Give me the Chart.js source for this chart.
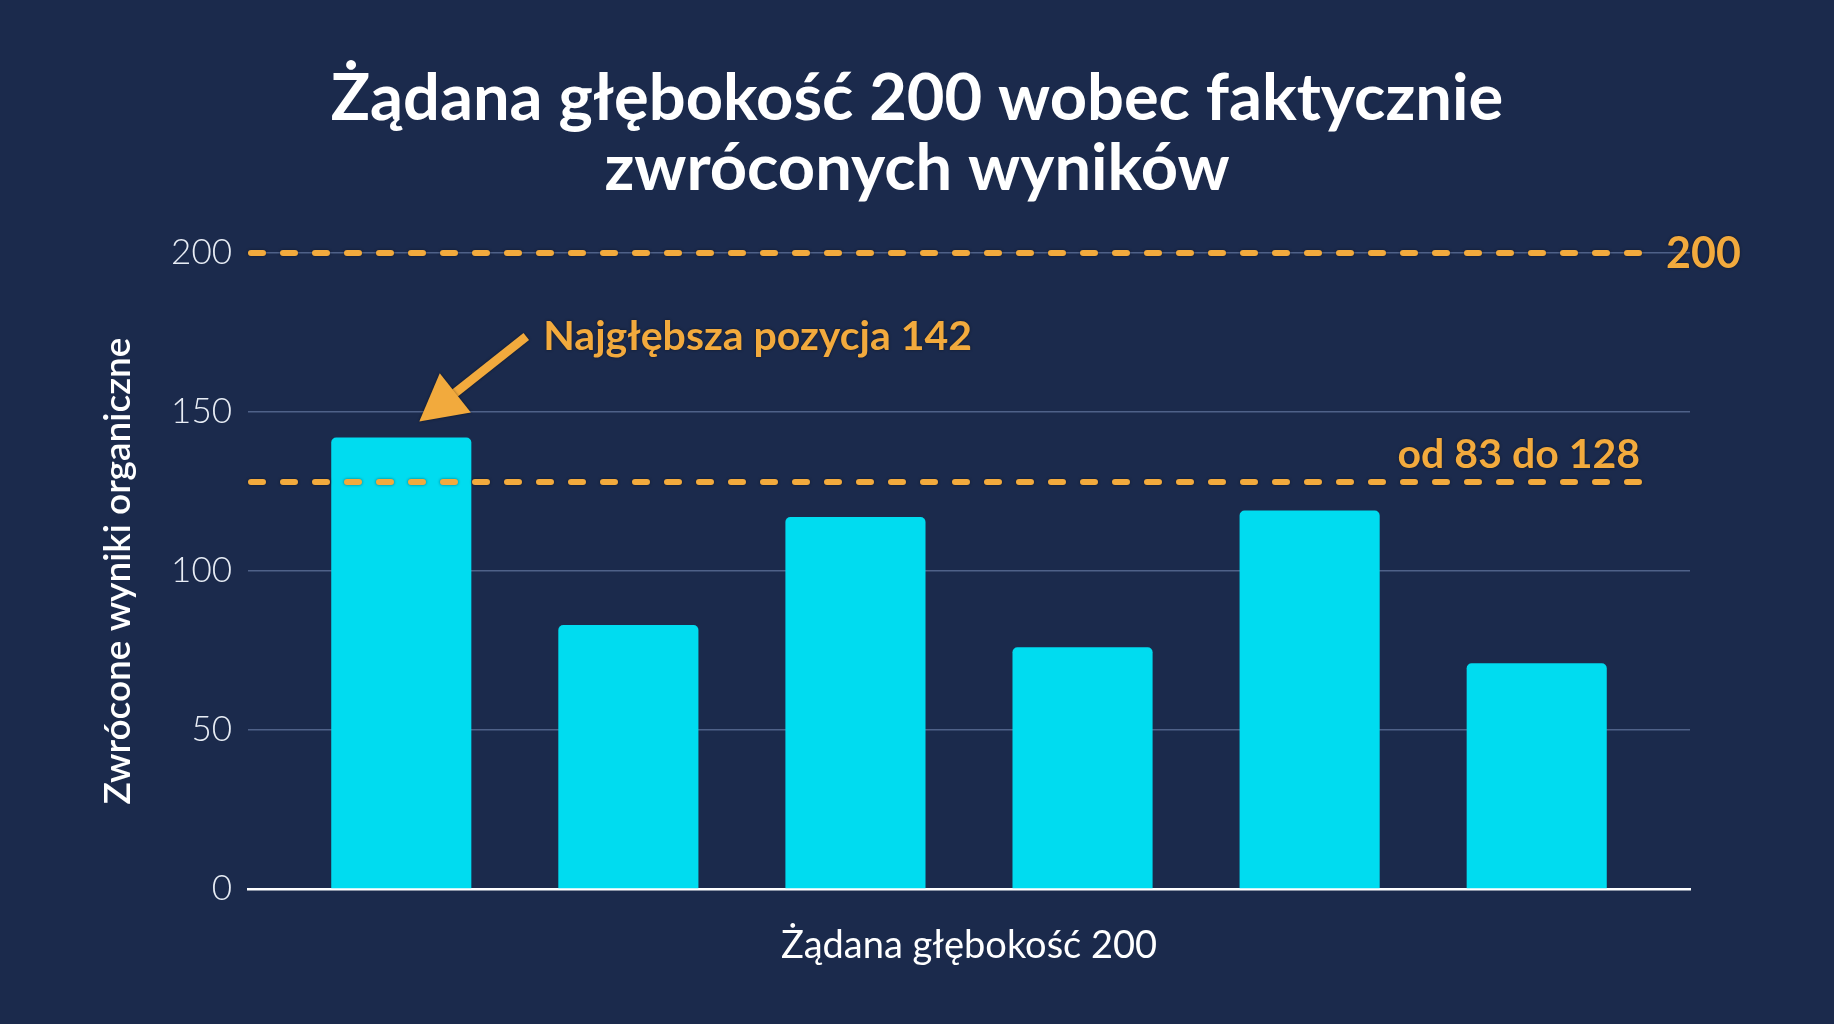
<!DOCTYPE html>
<html><head><meta charset="utf-8">
<script src="https://cdn.jsdelivr.net/npm/chart.js@4"></script>
<style>html,body{margin:0;padding:0;background:#1b2a4c;overflow:hidden}#wrap{width:1834px;height:1024px;position:relative}</style>
</head><body><div id="wrap"><canvas id="c"></canvas></div>
<script>
// ---- data ----
const categories = ['1', '2', '3', '4', '5', '6'];
const returnedResults = [142, 83, 117, 76, 119, 71];
const yTickValues = [0, 50, 100, 150, 200];
const requestedDepth = 200;
const rangeLow = 83;
const rangeHigh = 128;
const deepestIndex = 0;
const titleLines = ['Żądana głębokość 200 wobec faktycznie', 'zwróconych wyników'];
const yAxisTitle = 'Zwrócone wyniki organiczne';
const xAxisTitle = 'Żądana głębokość 200';

// ---- styles ----
const BG = '#1b2a4c';
const CYAN = '#00dcf0';
const ORANGE = '#f2aa3d';
const GRID = '#4f6188';
const FONT = 'Lato, "Open Sans", sans-serif';

const bgPlugin = {
  id: 'bg',
  beforeDraw(chart) {
    const ctx = chart.ctx;
    ctx.save();
    ctx.fillStyle = BG;
    ctx.fillRect(0, 0, chart.width, chart.height);
    ctx.restore();
  }
};

const annotPlugin = {
  id: 'annot',
  afterDatasetsDraw(chart) {
    const ctx = chart.ctx;
    const x = chart.scales.x, y = chart.scales.y, ca = chart.chartArea;
    const xEnd = ca.right - 43;
    ctx.save();
    // dashed reference lines
    ctx.strokeStyle = ORANGE;
    ctx.lineWidth = 6;
    ctx.lineCap = 'round';
    ctx.setLineDash([12, 20]);
    ctx.shadowColor = 'rgba(0,0,0,0.45)';
    ctx.shadowBlur = 3;
    [requestedDepth, rangeHigh].forEach(v => {
      const py = y.getPixelForValue(v);
      ctx.beginPath();
      ctx.moveTo(ca.left + 3, py);
      ctx.lineTo(xEnd, py);
      ctx.stroke();
    });
    ctx.setLineDash([]);
    // labels
    ctx.fillStyle = ORANGE;
    ctx.font = 'bold 43px ' + FONT;
    ctx.textAlign = 'left';
    ctx.textBaseline = 'middle';
    ctx.fillText(String(requestedDepth), xEnd + 19, y.getPixelForValue(requestedDepth) + 1);
    ctx.font = 'bold 41px ' + FONT;
    ctx.textAlign = 'right';
    ctx.textBaseline = 'alphabetic';
    ctx.fillText('od ' + rangeLow + ' do ' + rangeHigh, xEnd - 7, y.getPixelForValue(rangeHigh) - 14);
    // arrow to deepest bar
    const tipX = x.getPixelForValue(deepestIndex) + 18;
    const tipY = y.getPixelForValue(returnedResults[deepestIndex]) - 16;
    const tailX = tipX + 107, tailY = tipY - 85;
    const ang = Math.atan2(tipY - tailY, tipX - tailX);
    const headLen = 46, headHalf = 25;
    const baseX = tipX - headLen * Math.cos(ang), baseY = tipY - headLen * Math.sin(ang);
    ctx.strokeStyle = ORANGE;
    ctx.lineWidth = 9;
    ctx.lineCap = 'butt';
    ctx.beginPath();
    ctx.moveTo(tailX, tailY);
    ctx.lineTo(baseX + 4 * Math.cos(ang), baseY + 4 * Math.sin(ang));
    ctx.stroke();
    ctx.beginPath();
    ctx.moveTo(tipX, tipY);
    ctx.lineTo(baseX + headHalf * Math.sin(ang), baseY - headHalf * Math.cos(ang));
    ctx.lineTo(baseX - headHalf * Math.sin(ang), baseY + headHalf * Math.cos(ang));
    ctx.closePath();
    ctx.fill();
    // annotation text
    ctx.textAlign = 'left';
    ctx.textBaseline = 'middle';
    ctx.fillText('Najgłębsza pozycja ' + returnedResults[deepestIndex], tailX + 17, tailY);
    ctx.restore();
  }
};

new Chart(document.getElementById('c'), {
  type: 'bar',
  data: {
    labels: categories,
    datasets: [{
      label: 'Zwrócone wyniki',
      data: returnedResults.map((v, i) => ({ x: i, y: v })),
      backgroundColor: CYAN,
      borderWidth: 0,
      borderRadius: { topLeft: 5, topRight: 5 },
      borderSkipped: 'bottom',
      categoryPercentage: 1,
      barPercentage: 0.617
    }]
  },
  options: {
    responsive: true,
    maintainAspectRatio: false,
    animation: false,
    layout: { padding: 0 },
    plugins: {
      legend: { display: false },
      tooltip: { enabled: false },
      title: {
        display: true,
        text: titleLines,
        color: '#ffffff',
        font: { family: FONT, size: 65, weight: 'bold', lineHeight: 70 / 65 },
        padding: { top: 64, bottom: 49 }
      }
    },
    scales: {
      x: {
        type: 'linear',
        offset: false,
        min: -0.675,
        max: 5.675,
        afterFit(s) { s.height = 135; },
        afterBuildTicks(s) { s.ticks = categories.map((c, i) => ({ value: i })); },
        ticks: { display: false },
        grid: { display: false, offset: false },
        border: { display: true, color: '#ffffff', width: 2.5 },
        title: {
          display: true,
          text: xAxisTitle,
          color: '#ffffff',
          font: { family: FONT, size: 38, weight: 'normal', lineHeight: 1.2 },
          padding: { top: 0, bottom: 55 }
        }
      },
      y: {
        min: 0,
        max: 200,
        afterFit(s) { s.width = 248; },
        afterBuildTicks(s) { s.ticks = yTickValues.map(v => ({ value: v })); },
        ticks: {
          color: '#e8edf5',
          padding: 16,
          font: { family: FONT, size: 35, weight: '300' }
        },
        grid: { color: GRID, lineWidth: 1.5, drawTicks: false },
        border: { display: false },
        title: {
          display: true,
          text: yAxisTitle,
          color: '#ffffff',
          font: { family: FONT, size: 37, weight: '600', lineHeight: 1.2 },
          padding: { top: 96, bottom: 0 }
        }
      },
      yRight: {
        position: 'right',
        min: 0,
        max: 200,
        afterFit(s) { s.width = 144; },
        ticks: { display: false },
        grid: { display: false, drawOnChartArea: false },
        border: { display: false }
      }
    }
  },
  plugins: [bgPlugin, annotPlugin]
});
</script>
</body></html>
